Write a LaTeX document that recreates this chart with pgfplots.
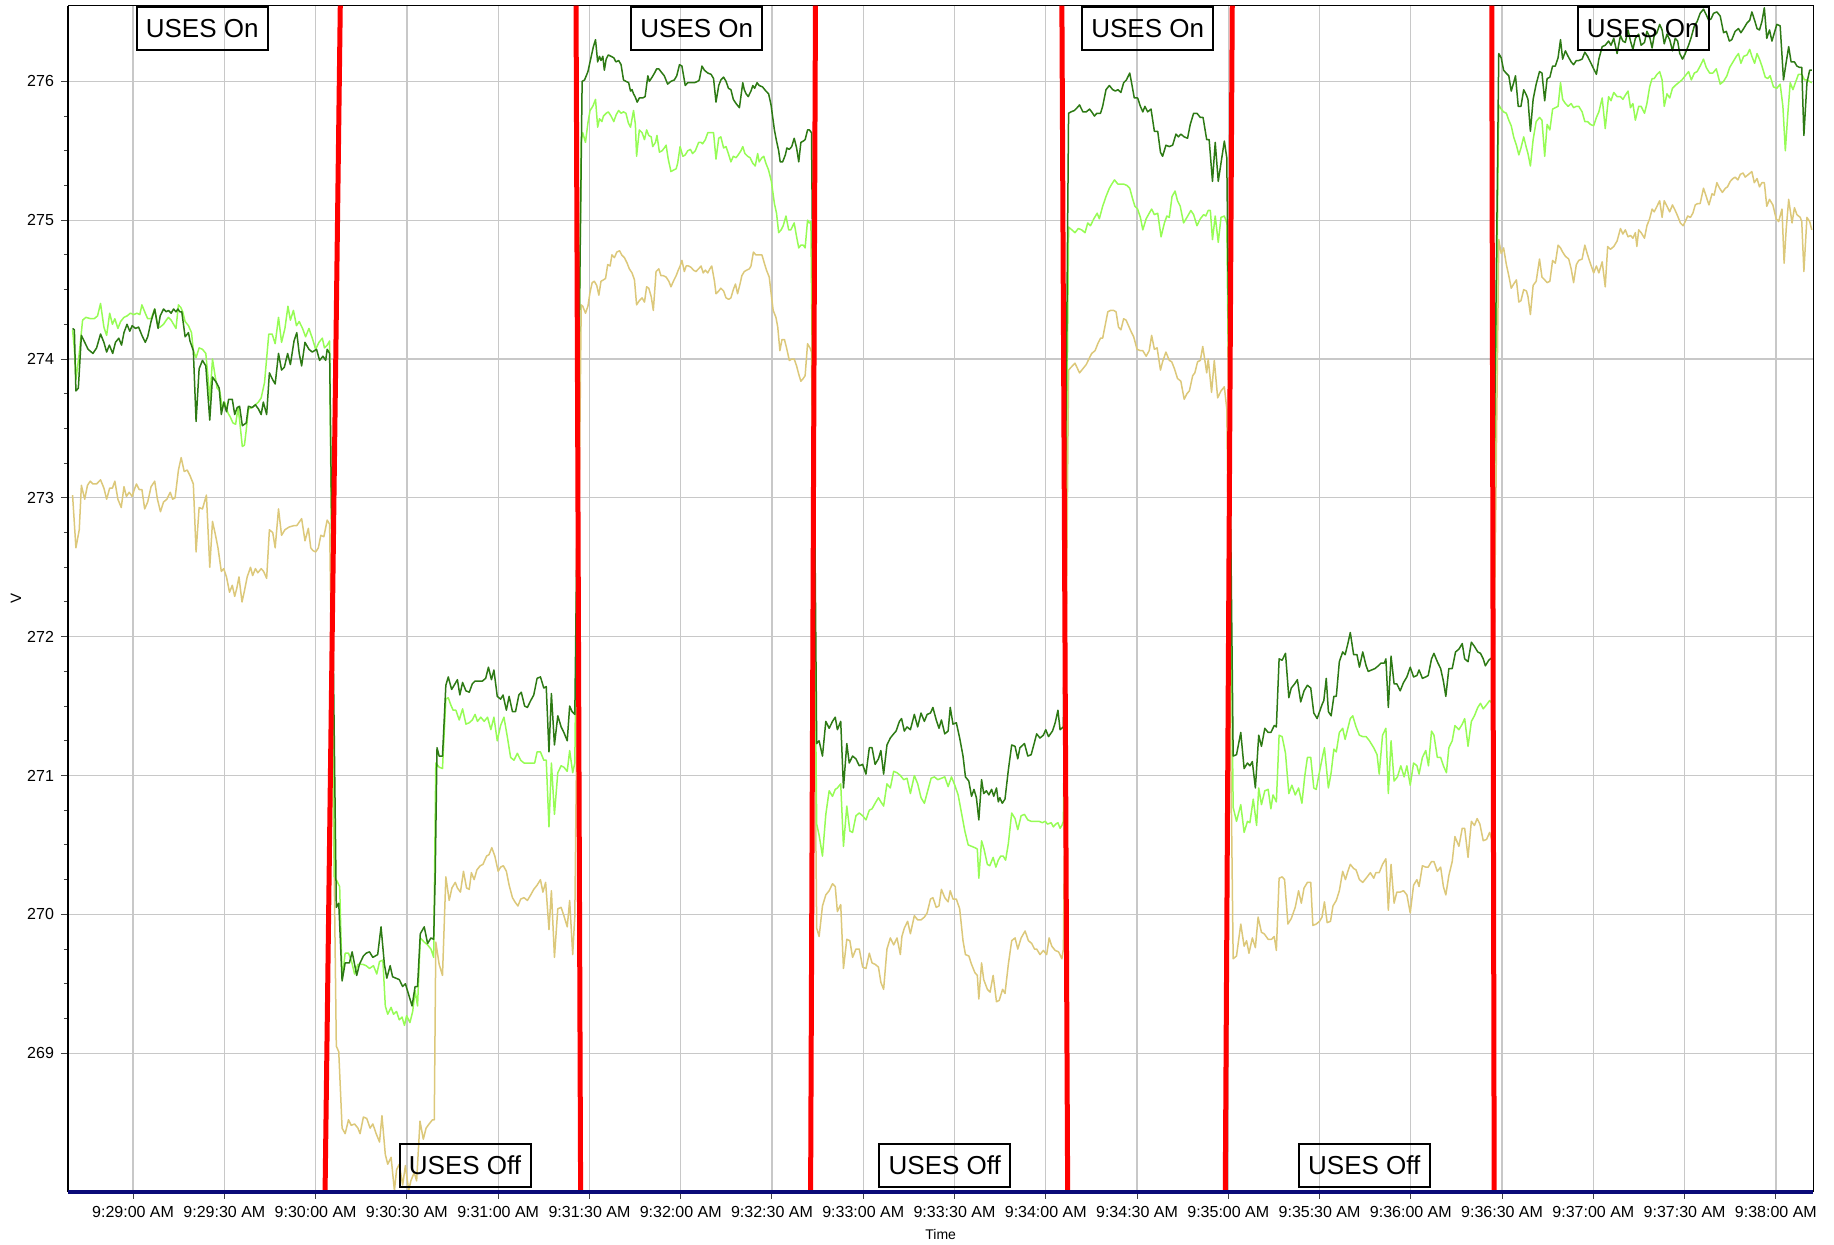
\documentclass[border=0pt]{standalone}
\usepackage{fontspec}
\setmainfont{Liberation Sans}
\usepackage{pgfplots}
\usepackage{pgfplotstable}
\pgfplotsset{compat=1.18}
\definecolor{dkgreen}{RGB}{45,122,20}
\definecolor{ltgreen}{RGB}{150,252,85}
\definecolor{tanc}{RGB}{220,200,122}
\definecolor{gridgray}{RGB}{200,200,200}
\definecolor{navyb}{RGB}{10,10,120}

\pgfplotstableread{
x y
40.1 274.22
40.7 274.21
41.2 273.77
42.0 273.79
43.0 274.17
44.1 274.12
45.2 274.07
46.8 274.04
48.0 274.08
49.3 274.18
50.4 274.12
51.3 274.05
52.2 274.10
53.3 274.04
54.2 274.12
55.3 274.15
56.2 274.10
57.0 274.19
58.0 274.25
58.9 274.20
59.7 274.24
60.8 274.22
61.8 274.23
62.9 274.17
64.0 274.12
64.8 274.16
65.9 274.27
67.1 274.36
68.2 274.22
68.9 274.31
70.0 274.36
70.9 274.34
71.6 274.35
72.5 274.33
73.3 274.36
74.1 274.34
74.7 274.36
75.4 274.34
76.0 274.34
77.1 274.16
78.2 274.19
78.7 274.13
79.8 274.06
80.7 273.55
81.7 273.93
82.8 273.99
83.9 273.95
85.2 273.56
86.1 273.87
87.4 273.83
88.3 273.79
89.0 273.60
89.8 273.69
90.7 273.62
91.4 273.71
92.6 273.71
93.4 273.60
94.2 273.65
95.0 273.66
95.9 273.52
96.6 273.53
97.2 273.54
97.9 273.66
99.1 273.65
100.2 273.67
101.2 273.64
102.1 273.60
102.8 273.69
103.9 273.60
104.8 273.90
105.9 273.85
106.7 273.82
107.8 274.04
108.8 273.92
109.7 273.94
110.8 274.04
111.7 273.96
112.9 274.13
113.8 274.19
114.6 274.04
115.4 273.95
116.5 274.12
117.8 274.07
118.9 274.05
120.3 274.07
121.3 273.99
122.4 274.02
123.3 273.99
123.8 274.07
124.6 274.04
126.8 270.05
127.6 270.08
128.7 269.52
129.7 269.65
131.1 269.65
132.0 269.73
132.8 269.64
133.5 269.56
134.4 269.64
135.7 269.70
136.6 269.72
137.7 269.73
138.8 269.69
140.4 269.71
141.5 269.91
142.6 269.64
143.4 269.54
144.5 269.63
145.3 269.55
146.4 269.54
147.5 269.53
148.6 269.48
149.5 269.50
150.6 269.42
151.7 269.34
152.7 269.48
153.5 269.48
154.4 269.86
155.7 269.91
156.8 269.79
157.9 269.83
158.8 269.82
159.3 270.27
159.9 271.20
160.6 271.14
161.7 271.14
162.8 271.65
163.6 271.71
164.7 271.62
165.8 271.66
166.6 271.69
167.4 271.58
168.3 271.67
169.4 271.61
170.5 271.60
171.5 271.66
172.4 271.68
173.4 271.68
174.8 271.68
175.9 271.70
176.8 271.78
177.8 271.69
178.6 271.76
179.7 271.57
180.8 271.55
181.6 271.58
182.7 271.47
183.6 271.57
184.7 271.46
185.7 271.46
186.8 271.58
187.6 271.60
188.7 271.50
189.6 271.49
190.7 271.54
191.7 271.58
192.8 271.70
193.9 271.71
195.0 271.63
195.8 271.64
196.7 271.17
197.5 271.59
198.5 271.22
199.6 271.43
200.7 271.35
201.6 271.31
202.7 271.25
203.5 271.50
204.3 271.46
205.2 271.44
207.6 276.00
208.4 276.01
209.5 276.07
210.5 276.17
211.3 276.25
212.0 276.30
212.7 276.14
213.3 276.18
213.8 276.15
214.4 276.18
214.9 276.08
215.5 276.16
216.2 276.19
217.1 276.18
218.0 276.17
218.7 276.14
219.6 276.15
220.4 276.12
221.2 276.01
222.0 276.00
222.9 275.99
223.5 275.93
224.0 275.94
224.5 275.91
225.0 275.89
225.7 275.85
226.4 275.88
227.5 275.88
228.3 275.89
229.2 276.04
229.7 276.00
230.6 276.03
231.4 276.06
232.1 276.09
232.8 276.09
233.5 276.07
234.6 276.04
235.7 275.98
236.8 276.00
237.9 276.01
238.7 276.04
239.6 276.12
240.4 276.11
241.5 275.97
242.3 275.99
243.4 275.99
244.5 275.99
245.6 276.00
246.1 276.01
247.0 276.11
247.8 276.08
248.9 276.06
250.0 276.05
250.8 276.02
251.6 275.85
252.5 275.97
253.2 276.01
254.1 276.03
254.9 276.00
255.7 275.95
256.5 275.94
257.3 275.87
258.2 275.84
259.3 275.81
260.4 275.99
260.9 275.94
261.5 275.91
262.2 275.89
263.1 275.93
263.7 275.97
264.3 275.95
265.1 275.99
265.8 275.97
266.9 275.96
268.0 275.93
268.9 275.91
269.7 275.83
270.8 275.65
271.5 275.57
272.2 275.50
272.7 275.42
273.5 275.42
274.4 275.47
274.9 275.52
275.7 275.51
276.5 275.53
277.3 275.59
278.1 275.52
278.8 275.42
279.5 275.56
280.3 275.57
280.9 275.58
281.7 275.65
282.3 275.65
283.0 275.63
284.7 271.23
285.5 271.25
286.6 271.14
287.7 271.39
288.8 271.34
289.9 271.39
290.8 271.42
291.5 271.33
292.6 271.39
293.5 270.91
294.6 271.23
295.4 271.09
296.5 271.14
297.6 271.12
298.7 271.07
299.8 271.08
300.9 271.01
302.0 271.20
302.9 271.20
303.9 271.08
305.0 271.12
305.8 271.18
306.7 271.01
307.8 271.22
308.9 271.27
310.0 271.30
310.8 271.32
311.9 271.39
312.6 271.41
313.5 271.32
314.4 271.35
315.5 271.33
316.8 271.44
317.9 271.35
319.0 271.45
320.1 271.39
321.0 271.44
322.1 271.45
322.9 271.49
324.0 271.40
324.9 271.34
325.7 271.40
326.8 271.30
327.9 271.32
328.6 271.49
329.5 271.37
330.6 271.38
331.7 271.27
332.8 271.14
333.6 270.99
334.7 270.96
335.6 270.85
336.4 270.90
337.2 270.84
338.0 270.68
338.9 270.97
339.6 270.87
340.5 270.89
341.3 270.86
342.2 270.90
342.9 270.85
343.8 270.91
344.4 270.81
344.9 270.84
345.7 270.80
346.6 270.83
347.7 271.04
348.8 271.22
349.9 271.21
350.8 271.12
351.5 271.20
353.0 271.23
354.1 271.14
355.2 271.15
356.3 271.24
357.0 271.30
358.1 271.27
359.2 271.29
360.0 271.33
360.9 271.28
362.2 271.32
363.1 271.38
364.0 271.47
364.7 271.33
365.8 271.35
367.5 275.77
368.3 275.78
369.4 275.79
370.3 275.81
371.1 275.83
372.2 275.78
373.3 275.78
374.4 275.80
375.1 275.78
376.0 275.75
376.8 275.77
378.0 275.77
378.7 275.82
379.8 275.94
380.9 275.97
382.0 275.94
382.9 275.93
383.7 275.94
384.7 275.92
385.6 275.99
386.5 276.01
387.6 276.06
388.2 275.99
389.1 275.88
390.2 275.88
391.1 275.82
391.9 275.78
392.6 275.82
393.5 275.78
394.6 275.80
395.7 275.64
396.8 275.64
397.7 275.49
398.4 275.46
399.5 275.54
400.6 275.53
401.7 275.54
402.8 275.62
403.6 275.60
404.4 275.62
405.5 275.60
406.6 275.59
407.5 275.69
408.6 275.77
409.7 275.77
410.8 275.74
411.7 275.74
412.9 275.58
413.7 275.58
414.8 275.28
415.7 275.56
416.7 275.28
417.8 275.44
418.7 275.57
419.5 275.45
421.6 271.14
422.7 271.15
424.1 271.31
425.2 271.05
426.3 271.09
427.1 271.07
427.9 271.10
428.9 270.91
430.0 271.29
430.9 271.21
432.0 271.34
433.1 271.31
434.0 271.31
435.1 271.36
435.8 271.35
436.7 271.84
437.7 271.83
438.8 271.88
439.9 271.56
440.7 271.63
441.8 271.66
442.7 271.69
443.8 271.53
444.9 271.61
446.0 271.65
447.1 271.63
448.1 271.45
449.2 271.41
450.0 271.46
450.8 271.51
451.4 271.54
452.2 271.70
452.9 271.46
453.8 271.43
454.7 271.57
455.5 271.57
456.5 271.82
457.6 271.89
458.4 271.87
459.3 271.95
460.1 272.03
461.2 271.87
462.3 271.87
463.1 271.78
464.2 271.89
465.3 271.79
466.0 271.75
467.1 271.76
468.2 271.77
469.3 271.79
470.2 271.81
471.3 271.81
471.8 271.84
472.6 271.49
473.5 271.86
474.5 271.66
475.4 271.66
476.5 271.61
477.6 271.67
478.7 271.71
479.8 271.78
480.9 271.71
482.0 271.72
482.7 271.76
483.8 271.70
484.9 271.71
485.7 271.72
486.8 271.84
487.6 271.88
488.7 271.82
489.8 271.77
490.7 271.68
491.5 271.57
492.5 271.77
493.6 271.77
494.7 271.89
495.8 271.91
496.9 271.95
497.7 271.84
498.8 271.82
499.9 271.96
500.9 271.93
502.0 271.89
502.9 271.88
503.8 271.84
504.5 271.79
505.6 271.83
506.7 271.85
508.9 276.20
509.7 276.17
510.5 276.08
511.3 276.06
512.2 276.04
513.0 275.93
513.8 275.99
514.4 276.04
515.3 275.82
516.2 275.82
517.1 275.94
518.0 275.90
518.5 275.87
519.3 275.64
520.2 275.87
521.2 275.98
522.3 276.07
523.1 276.06
524.0 275.86
524.8 276.02
525.7 276.03
526.6 276.11
527.5 276.11
528.4 276.17
529.2 276.30
529.9 276.16
530.8 276.22
531.7 276.18
532.7 276.14
533.5 276.12
534.4 276.15
535.2 276.15
536.3 276.16
537.2 276.21
538.1 276.18
539.0 276.14
540.1 276.09
541.0 276.05
541.8 276.16
542.9 276.25
543.9 276.26
545.0 276.29
545.8 276.26
546.7 276.31
547.8 276.20
548.9 276.33
549.7 276.29
550.5 276.28
551.4 276.37
552.2 276.29
553.0 276.23
553.8 276.31
554.9 276.34
555.7 276.26
556.8 276.28
557.6 276.36
558.5 276.32
559.3 276.24
560.0 276.33
560.9 276.35
561.8 276.41
562.6 276.37
563.3 276.27
564.2 276.34
565.1 276.30
566.0 276.22
566.9 276.31
567.7 276.29
568.4 276.20
569.3 276.16
570.2 276.20
571.3 276.26
572.2 276.32
573.2 276.40
574.1 276.43
575.1 276.49
576.2 276.52
577.1 276.48
577.9 276.44
578.7 276.45
579.5 276.49
580.6 276.50
581.7 276.47
582.8 276.35
583.7 276.36
584.7 276.29
585.5 276.30
586.6 276.36
587.7 276.38
588.5 276.35
589.4 276.38
590.5 276.42
591.4 276.44
592.1 276.50
593.0 276.44
593.8 276.38
594.6 276.37
595.4 276.43
596.2 276.53
597.0 276.31
597.9 276.37
598.7 276.29
599.5 276.35
600.3 276.41
601.4 276.40
602.5 276.01
603.4 276.14
604.2 276.25
605.0 276.14
606.1 276.14
606.9 276.11
607.8 276.10
608.5 276.10
609.2 275.61
610.2 275.99
611.1 276.08
611.8 276.08
}\dkdata

\pgfplotstableread{
x y
40.1 274.21
40.7 274.07
41.2 273.85
42.3 274.04
43.4 274.28
44.5 274.30
46.1 274.29
47.2 274.29
48.3 274.31
49.3 274.40
50.4 274.23
51.3 274.17
52.3 274.33
53.2 274.25
54.0 274.29
55.0 274.22
55.9 274.27
57.0 274.30
58.0 274.31
59.1 274.33
60.2 274.32
61.3 274.33
62.2 274.32
62.9 274.39
64.0 274.33
64.8 274.29
65.9 274.29
67.1 274.36
68.2 274.23
68.9 274.23
70.0 274.25
70.9 274.28
71.6 274.30
72.5 274.28
73.3 274.25
74.1 274.22
74.9 274.39
75.7 274.37
76.3 274.34
77.1 274.27
78.2 274.24
79.2 274.19
79.8 274.06
80.7 274.01
81.7 274.08
82.8 274.07
83.9 274.04
84.7 273.85
85.2 273.70
86.1 274.00
86.8 273.90
87.6 273.79
88.5 273.77
89.3 273.64
90.1 273.69
91.2 273.61
92.0 273.58
92.8 273.54
93.7 273.53
94.5 273.65
95.0 273.56
95.9 273.37
96.6 273.38
97.2 273.49
97.9 273.64
99.1 273.65
100.2 273.67
101.2 273.69
102.1 273.72
103.2 273.83
104.6 274.18
105.7 274.18
106.7 274.11
107.8 274.30
108.8 274.12
109.9 274.22
110.9 274.38
111.7 274.28
112.7 274.35
113.7 274.24
114.6 274.27
115.7 274.22
116.7 274.16
117.8 274.22
118.9 274.15
120.0 274.07
121.1 274.12
122.2 274.15
122.9 274.08
123.8 274.10
124.6 274.13
126.2 270.27
127.0 270.24
127.9 270.20
128.7 269.53
129.7 269.72
130.8 269.72
131.7 269.67
132.8 269.57
133.9 269.64
135.5 269.64
136.6 269.63
137.7 269.61
139.0 269.63
140.1 269.57
141.0 269.66
142.1 269.67
142.9 269.34
143.7 269.28
144.8 269.33
145.6 269.28
146.6 269.30
147.5 269.24
148.4 269.26
149.2 269.20
149.9 269.27
151.0 269.22
151.9 269.30
152.7 269.45
153.5 269.34
154.4 269.83
155.7 269.80
156.8 269.78
157.9 269.75
158.8 269.69
159.5 271.09
160.6 271.06
161.7 271.05
162.8 271.55
163.6 271.56
164.4 271.51
165.2 271.47
166.1 271.47
167.2 271.40
168.3 271.48
169.4 271.37
170.5 271.38
171.5 271.40
172.4 271.44
173.2 271.39
174.3 271.42
175.4 271.39
176.5 271.42
177.6 271.33
178.6 271.42
179.7 271.25
180.8 271.36
181.9 271.42
183.0 271.28
184.1 271.13
185.2 271.11
186.3 271.16
187.4 271.11
188.5 271.09
189.8 271.09
190.9 271.09
192.0 271.09
192.8 271.17
193.9 271.17
195.0 271.11
195.8 271.11
196.7 270.63
197.5 271.09
198.5 270.72
199.6 271.02
200.7 271.07
201.6 271.06
202.7 271.03
203.5 271.18
204.5 271.02
205.2 271.09
207.3 275.56
207.8 275.63
208.7 275.56
209.5 275.70
210.2 275.79
211.1 275.82
212.0 275.87
212.7 275.67
213.3 275.73
214.1 275.71
214.6 275.75
215.5 275.77
216.2 275.78
217.1 275.75
218.0 275.71
218.8 275.76
219.6 275.79
220.4 275.77
221.2 275.78
222.0 275.77
222.8 275.70
223.5 275.67
224.5 275.79
225.1 275.69
225.5 275.46
226.4 275.65
227.3 275.63
228.1 275.58
228.8 275.65
229.5 275.61
230.3 275.60
230.8 275.53
231.7 275.56
232.2 275.61
233.0 275.49
233.9 275.50
234.6 275.52
235.2 275.54
235.9 275.44
236.8 275.35
237.6 275.36
238.5 275.37
239.0 275.41
239.8 275.53
240.7 275.46
241.5 275.47
242.3 275.50
243.2 275.51
243.9 275.48
244.8 275.50
245.9 275.56
246.7 275.56
247.2 275.55
248.1 275.58
248.9 275.63
250.0 275.63
250.8 275.63
251.6 275.44
252.5 275.59
253.2 275.60
254.1 275.52
254.9 275.53
255.8 275.47
256.5 275.42
257.3 275.46
258.2 275.45
258.9 275.47
259.8 275.50
260.4 275.53
261.1 275.48
262.0 275.46
262.8 275.45
263.7 275.41
264.5 275.39
265.3 275.48
265.8 275.42
266.7 275.45
267.3 275.46
268.0 275.41
268.9 275.36
269.8 275.28
270.8 275.12
271.5 275.05
272.2 274.91
273.0 274.93
273.7 274.96
274.6 275.03
275.5 274.93
276.2 274.93
277.3 274.98
278.1 274.88
278.8 274.80
279.5 274.82
280.3 274.82
280.9 274.80
281.7 275.00
282.3 274.98
282.8 274.99
284.7 270.65
285.5 270.57
286.6 270.42
287.7 270.72
288.8 270.89
289.9 270.85
290.8 270.90
291.5 270.91
292.6 270.94
293.5 270.49
294.6 270.78
295.6 270.60
296.5 270.59
297.6 270.71
298.7 270.73
299.8 270.71
300.9 270.68
302.0 270.75
302.9 270.76
303.9 270.80
305.0 270.84
305.8 270.81
306.7 270.78
307.8 270.94
308.9 270.91
310.0 271.03
311.1 271.02
312.2 271.00
313.3 270.97
314.4 270.98
315.5 270.87
316.8 271.00
317.9 270.94
319.0 270.84
320.1 270.80
321.2 270.89
322.3 270.98
323.4 270.99
324.5 270.97
325.7 270.98
326.8 270.99
327.9 270.92
329.0 270.99
330.1 270.93
331.2 270.86
332.3 270.73
333.4 270.60
334.5 270.50
335.6 270.49
336.7 270.48
337.5 270.47
338.0 270.26
338.9 270.53
339.7 270.47
340.8 270.36
341.6 270.35
342.7 270.41
343.6 270.34
344.4 270.39
345.2 270.42
346.0 270.42
346.8 270.39
347.7 270.51
348.8 270.73
349.9 270.69
350.8 270.61
351.9 270.71
353.0 270.72
354.1 270.68
355.2 270.67
356.5 270.67
357.8 270.67
358.9 270.66
359.8 270.67
360.6 270.65
361.8 270.66
362.5 270.63
363.3 270.65
364.0 270.66
364.7 270.62
365.3 270.64
365.8 270.67
367.5 274.95
368.6 274.93
369.6 274.91
370.7 274.94
371.8 274.93
372.9 274.91
373.8 274.98
374.7 274.96
375.8 275.01
376.9 275.05
377.6 275.01
378.7 275.10
379.8 275.17
380.9 275.23
381.7 275.26
382.6 275.29
383.7 275.26
384.7 275.26
385.6 275.26
386.7 275.25
387.6 275.23
388.6 275.15
389.3 275.10
390.2 275.08
391.1 275.02
391.9 274.93
393.0 275.01
394.0 275.05
394.8 275.08
395.7 275.04
396.8 275.05
397.9 274.88
399.0 274.98
399.8 275.03
400.6 275.02
401.5 275.17
402.5 275.21
403.3 275.14
404.2 275.10
405.3 274.98
406.4 275.02
407.7 275.07
408.6 275.04
409.7 274.96
410.8 275.01
411.9 275.04
412.6 275.03
413.4 275.07
414.1 275.07
414.8 274.86
415.7 275.03
416.7 274.84
417.6 275.02
418.7 275.03
419.5 274.98
421.6 270.77
422.7 270.67
424.1 270.79
425.2 270.59
426.3 270.67
427.1 270.66
428.2 270.83
429.3 270.64
430.0 270.91
430.9 270.79
432.0 270.89
433.1 270.90
434.0 270.76
434.7 270.86
435.8 270.81
436.7 271.29
437.7 271.28
438.8 271.16
439.9 270.87
440.9 270.93
442.0 270.86
443.1 270.91
444.2 270.80
445.1 270.99
446.0 271.13
447.1 271.13
448.1 270.91
448.9 270.90
450.0 271.03
451.1 271.15
451.6 271.20
452.9 270.91
453.8 271.02
454.7 271.19
455.5 271.17
456.5 271.31
457.6 271.34
458.4 271.26
459.3 271.34
460.1 271.41
460.9 271.43
462.0 271.35
463.1 271.29
464.2 271.28
465.3 271.28
466.4 271.25
467.8 271.20
468.9 271.15
469.6 271.01
470.7 271.29
471.8 271.34
472.6 270.87
473.5 271.25
474.5 270.96
475.6 270.99
476.7 271.07
477.8 270.99
478.7 271.07
479.8 270.93
480.9 271.09
482.0 271.07
482.7 271.01
483.8 271.13
484.9 271.18
485.8 271.07
486.8 271.32
487.6 271.29
488.7 271.13
489.8 271.13
490.7 271.07
491.7 271.02
492.5 271.20
493.6 271.25
494.5 271.36
495.8 271.33
496.9 271.37
497.7 271.41
498.8 271.21
499.9 271.39
500.9 271.43
502.0 271.49
502.9 271.52
503.8 271.48
504.9 271.51
505.9 271.54
506.7 271.52
508.9 275.83
509.7 275.80
510.5 275.78
511.4 275.77
512.2 275.72
513.0 275.68
513.8 275.60
514.7 275.54
515.5 275.47
516.2 275.52
517.1 275.60
518.0 275.52
518.5 275.48
519.3 275.39
520.2 275.58
521.2 275.71
522.3 275.74
523.1 275.72
524.0 275.46
524.8 275.69
525.7 275.65
526.6 275.80
527.5 275.81
528.4 275.82
529.2 275.99
529.9 275.87
530.8 275.84
531.7 275.82
532.7 275.84
533.5 275.81
534.4 275.82
535.2 275.82
536.3 275.78
537.2 275.71
538.1 275.71
539.0 275.69
540.1 275.68
541.0 275.74
541.8 275.78
542.9 275.88
543.9 275.66
545.0 275.89
545.8 275.86
546.7 275.92
547.8 275.89
548.9 275.89
549.7 275.87
550.5 275.90
551.4 275.93
552.2 275.81
553.0 275.84
553.8 275.72
554.9 275.82
555.7 275.82
556.8 275.77
557.6 275.84
558.5 275.96
559.3 276.02
560.0 276.02
560.9 276.05
561.8 276.07
562.6 276.01
563.3 275.82
564.2 275.91
565.1 275.88
566.0 275.95
566.9 275.97
568.0 275.99
569.1 276.01
570.2 276.04
571.3 276.07
572.2 276.01
573.2 276.06
574.1 276.07
575.1 276.11
576.2 276.16
577.1 276.10
578.2 276.06
579.3 276.06
580.4 276.09
581.7 275.98
582.8 276.00
583.9 276.04
584.8 276.10
585.9 276.14
587.0 276.18
587.7 276.20
588.5 276.13
589.4 276.18
590.5 276.19
591.4 276.23
592.1 276.18
593.0 276.13
593.8 276.20
594.6 276.16
595.4 276.11
596.5 276.03
597.3 276.02
598.1 276.04
599.2 275.96
600.3 275.95
601.4 275.98
602.3 275.82
603.1 275.50
603.9 275.76
604.7 275.99
605.6 275.94
606.4 275.99
607.4 276.05
608.5 276.05
609.4 276.01
610.2 276.01
611.8 275.99
}\ltdata

\pgfplotstableread{
x y
40.1 273.02
41.2 272.64
42.3 272.77
43.0 273.09
44.1 272.99
45.0 273.09
45.9 273.12
46.8 273.10
48.0 273.10
49.3 273.13
50.4 273.07
51.3 272.99
52.3 273.07
53.2 273.07
54.0 273.12
55.0 272.99
56.1 272.93
57.0 273.08
57.8 273.01
58.7 273.04
59.7 273.01
60.4 273.06
61.1 273.10
62.0 273.06
62.9 273.06
63.8 272.92
64.8 272.97
65.9 273.08
67.1 273.12
68.0 272.99
69.0 272.90
70.0 272.97
71.1 272.99
72.2 273.04
73.0 272.99
73.8 273.00
74.9 273.20
75.8 273.29
76.8 273.19
77.8 273.20
78.7 273.16
79.8 273.10
80.7 272.61
81.7 272.93
82.8 272.92
84.1 273.02
85.2 272.50
86.1 272.83
87.0 272.74
87.9 272.64
89.0 272.47
89.8 272.49
90.7 272.43
91.7 272.32
92.6 272.37
93.4 272.29
94.1 272.35
94.8 272.43
95.8 272.25
96.6 272.33
97.5 272.43
98.6 272.50
99.3 272.44
100.2 272.49
101.0 272.46
102.1 272.49
102.9 272.47
103.9 272.42
104.8 272.77
105.9 272.75
106.7 272.64
107.8 272.92
108.8 272.73
109.9 272.77
111.3 272.79
112.9 272.80
113.8 272.80
115.4 272.85
116.5 272.69
117.6 272.78
118.4 272.64
119.1 272.62
120.0 272.61
120.9 272.64
121.7 272.73
122.7 272.72
123.8 272.84
124.6 272.81
126.2 270.13
126.8 269.05
127.6 269.01
128.7 268.46
129.7 268.42
130.8 268.52
131.7 268.48
132.8 268.49
133.9 268.46
134.6 268.42
135.7 268.54
136.8 268.53
137.9 268.46
138.8 268.49
139.9 268.42
141.0 268.36
141.8 268.55
142.9 268.27
143.7 268.20
144.8 268.25
145.9 268.01
146.6 268.16
147.5 268.20
148.6 268.05
149.5 268.19
150.6 268.01
151.3 268.08
152.4 268.14
153.2 268.08
154.3 268.51
155.4 268.38
156.3 268.46
157.3 268.49
158.4 268.52
159.0 268.52
159.5 269.80
160.6 269.64
161.7 269.56
162.8 270.27
163.9 270.10
164.8 270.19
165.9 270.23
166.6 270.19
167.6 270.16
168.6 270.31
169.6 270.19
170.5 270.18
171.2 270.30
172.1 270.25
173.0 270.32
174.1 270.35
175.0 270.36
176.2 270.42
177.0 270.43
177.9 270.48
178.9 270.42
180.0 270.31
180.8 270.34
181.7 270.35
182.7 270.31
183.6 270.21
184.7 270.12
185.5 270.09
186.5 270.06
187.4 270.11
188.5 270.12
189.6 270.10
190.7 270.14
191.7 270.18
192.8 270.21
193.9 270.25
194.7 270.16
195.6 270.23
196.7 269.89
197.5 270.17
198.5 269.69
199.6 270.04
200.7 270.05
201.6 269.99
202.7 269.91
203.5 270.10
204.5 269.71
205.2 269.99
207.3 274.39
207.8 274.38
208.7 274.33
209.5 274.38
210.2 274.48
210.9 274.55
211.6 274.56
212.4 274.53
213.1 274.46
213.8 274.56
214.6 274.57
215.3 274.58
216.0 274.68
216.8 274.67
217.4 274.75
218.2 274.73
219.0 274.77
219.9 274.78
220.6 274.75
221.5 274.73
222.4 274.69
223.1 274.65
224.0 274.62
224.8 274.57
225.5 274.39
226.4 274.42
227.3 274.44
228.1 274.41
228.8 274.52
229.5 274.51
230.3 274.45
231.0 274.35
231.9 274.63
232.8 274.65
233.5 274.60
234.3 274.60
235.2 274.59
236.1 274.56
236.8 274.52
237.6 274.56
238.5 274.60
239.2 274.64
239.8 274.67
240.4 274.71
241.2 274.63
241.8 274.67
242.6 274.67
243.4 274.66
244.2 274.64
245.0 274.63
245.9 274.65
246.7 274.67
247.4 274.62
248.1 274.64
248.9 274.62
249.6 274.65
250.2 274.67
251.1 274.56
251.6 274.47
252.5 274.49
253.2 274.51
254.1 274.49
254.9 274.44
255.8 274.43
256.5 274.44
257.3 274.50
258.0 274.54
258.7 274.47
259.5 274.54
260.1 274.60
260.9 274.63
261.7 274.64
262.6 274.65
263.1 274.67
263.9 274.77
264.7 274.75
265.6 274.75
266.7 274.75
267.5 274.69
268.2 274.64
269.1 274.59
269.9 274.44
270.4 274.35
271.3 274.30
271.9 274.23
272.6 274.06
273.3 274.14
274.1 274.14
274.8 274.08
275.7 273.99
276.6 274.00
277.3 274.00
278.1 273.95
278.8 273.89
279.5 273.84
280.3 273.86
280.9 273.88
281.7 274.11
282.5 274.08
283.0 274.05
284.7 269.90
285.5 269.84
286.6 270.06
287.7 270.14
288.8 270.17
289.9 270.22
290.8 270.20
291.5 270.02
292.6 270.07
293.5 269.61
294.6 269.82
295.6 269.81
296.5 269.69
297.6 269.75
298.7 269.75
299.8 269.62
300.9 269.61
302.0 269.72
302.9 269.65
303.9 269.64
305.0 269.62
305.8 269.51
306.7 269.46
307.8 269.75
308.9 269.83
310.0 269.78
311.1 269.83
312.2 269.71
312.7 269.84
313.5 269.90
314.6 269.95
315.5 269.86
316.8 269.99
317.9 269.96
319.0 269.96
320.1 269.98
321.0 270.01
322.1 270.11
322.9 270.12
324.0 270.05
324.9 270.06
325.7 270.18
326.8 270.12
327.9 270.09
328.6 270.17
329.5 270.11
330.6 270.11
331.7 270.04
332.8 269.81
333.6 269.71
334.7 269.70
335.6 269.64
336.7 269.58
337.5 269.56
338.0 269.39
338.9 269.65
339.6 269.53
340.8 269.46
341.7 269.44
342.7 269.56
343.8 269.37
344.7 269.38
345.8 269.46
346.6 269.43
347.7 269.64
348.8 269.81
349.9 269.83
350.8 269.75
351.9 269.83
353.2 269.88
354.3 269.81
355.4 269.79
356.3 269.75
357.0 269.75
358.1 269.71
359.2 269.74
360.3 269.71
361.1 269.83
362.0 269.77
363.1 269.74
364.2 269.73
365.3 269.68
365.8 269.75
367.5 273.92
368.3 273.94
369.6 273.97
371.1 273.90
372.2 273.93
373.3 273.96
374.4 274.01
375.1 274.04
376.2 274.06
377.1 274.11
378.0 274.15
378.7 274.15
379.5 274.24
380.4 274.34
381.3 274.35
382.3 274.35
383.1 274.34
383.9 274.23
384.7 274.21
385.6 274.29
386.4 274.28
387.2 274.24
388.0 274.20
388.9 274.16
390.0 274.07
391.1 274.06
391.9 274.06
393.0 274.02
394.0 274.06
394.8 274.17
395.7 274.07
396.6 274.08
397.7 273.92
398.4 273.98
399.5 274.05
400.6 273.99
401.4 273.98
402.3 273.93
403.3 273.86
404.4 273.84
405.5 273.71
406.4 273.75
407.2 273.77
408.3 273.88
409.0 273.90
409.9 273.98
410.8 273.99
411.6 274.09
412.3 273.99
412.9 273.90
413.4 274.00
414.5 273.76
415.4 273.99
416.5 273.72
417.6 273.77
418.7 273.80
419.5 273.64
421.6 269.68
422.7 269.70
424.1 269.93
425.2 269.77
426.0 269.81
426.8 269.72
427.9 269.83
428.9 269.76
429.8 269.98
430.9 269.87
431.8 269.86
433.1 269.82
434.2 269.82
435.1 269.84
435.8 269.74
436.7 270.26
437.7 270.27
438.5 270.25
439.6 269.93
440.7 269.97
442.0 270.05
443.1 270.17
444.0 270.08
444.9 270.19
446.0 270.23
447.1 270.23
447.8 269.92
448.9 269.93
450.0 269.95
450.8 269.98
451.6 270.09
452.5 269.94
453.6 269.95
454.4 270.06
455.5 270.10
456.5 270.17
457.6 270.31
458.5 270.25
459.3 270.31
460.1 270.36
461.2 270.33
462.0 270.32
463.1 270.25
464.2 270.23
465.3 270.26
466.7 270.30
467.8 270.26
468.5 270.30
469.6 270.30
470.7 270.36
471.8 270.40
472.6 270.03
473.5 270.36
474.5 270.08
475.4 270.16
476.5 270.16
477.6 270.17
478.7 270.14
479.8 270.01
480.9 270.21
482.0 270.25
482.7 270.20
483.8 270.35
484.9 270.34
485.7 270.34
486.8 270.38
487.6 270.38
488.7 270.31
489.8 270.34
490.7 270.20
491.5 270.14
492.5 270.28
493.6 270.38
494.5 270.56
495.8 270.49
496.9 270.62
497.7 270.62
498.8 270.41
499.9 270.67
500.9 270.64
501.8 270.69
502.7 270.65
503.8 270.53
504.9 270.54
505.9 270.59
506.7 270.53
508.9 274.86
509.7 274.76
510.5 274.80
511.4 274.68
512.2 274.60
513.0 274.51
513.8 274.54
514.7 274.57
515.5 274.41
516.2 274.42
517.1 274.50
518.0 274.49
518.5 274.45
519.3 274.32
520.2 274.53
521.2 274.56
522.3 274.72
523.1 274.59
524.0 274.57
524.8 274.55
525.7 274.56
526.6 274.71
527.5 274.69
528.4 274.82
529.2 274.80
529.9 274.77
530.8 274.74
531.9 274.72
532.7 274.65
533.5 274.55
534.4 274.68
535.2 274.71
536.3 274.72
537.2 274.82
538.1 274.75
539.0 274.69
540.1 274.62
541.0 274.67
541.8 274.62
542.9 274.70
543.9 274.52
544.7 274.81
545.6 274.79
546.7 274.81
547.8 274.85
548.9 274.94
549.7 274.90
550.5 274.93
551.4 274.88
552.2 274.89
553.0 274.87
553.8 274.91
554.3 274.81
554.9 274.93
555.7 274.91
556.8 274.87
557.6 274.96
558.5 275.01
559.3 275.08
560.0 275.06
560.9 275.10
561.8 275.14
562.6 275.02
563.3 275.14
564.2 275.10
565.1 275.06
566.0 275.11
566.9 275.07
567.7 275.03
568.6 274.98
569.5 274.96
570.2 274.99
571.0 275.03
571.9 275.02
572.7 275.05
573.5 275.11
574.3 275.12
575.1 275.12
576.2 275.23
577.1 275.17
578.0 275.11
579.0 275.19
579.7 275.18
580.6 275.27
581.5 275.23
582.4 275.20
583.4 275.23
584.1 275.24
585.0 275.28
585.9 275.30
586.6 275.31
587.5 275.29
588.3 275.33
589.2 275.34
589.9 275.31
591.0 275.33
592.1 275.35
592.9 275.27
593.8 275.30
594.6 275.24
595.4 275.27
596.2 275.27
597.0 275.10
597.9 275.15
599.0 275.11
600.1 275.01
600.9 274.99
602.0 275.08
602.7 274.69
603.4 274.94
604.2 275.15
605.3 274.98
606.1 275.09
606.9 275.04
608.0 275.02
608.5 274.99
609.2 274.63
610.2 275.02
611.1 274.99
611.8 274.93
}\tandata

\begin{document}
\begin{tikzpicture}
\useasboundingbox (0,0) rectangle (917pt,622.5pt);
\begin{axis}[
  at={(34pt,26.5pt)}, anchor=south west,
  scale only axis, width=872.65pt, height=593.15pt,
  xmin=38.6, xmax=612.3, ymin=268, ymax=276.545,
  clip=false,
  xtick={60,90,120,150,180,210,240,270,300,330,360,390,420,450,480,510,540,570,600},
  xticklabels={9:29:00 AM,9:29:30 AM,9:30:00 AM,9:30:30 AM,9:31:00 AM,9:31:30 AM,9:32:00 AM,9:32:30 AM,9:33:00 AM,9:33:30 AM,9:34:00 AM,9:34:30 AM,9:35:00 AM,9:35:30 AM,9:36:00 AM,9:36:30 AM,9:37:00 AM,9:37:30 AM,9:38:00 AM},
  ytick={269,270,271,272,273,274,275,276},
  minor y tick num=3,
  tick pos=left,
  tick align=outside,
  major tick length=3.5pt, minor tick length=2pt,
  grid=major,
  major grid style={gridgray, line width=0.65pt},
  tick style={black!75, line width=0.5pt},
  ticklabel style={font=\fontsize{8}{9}\selectfont},
  /pgf/number format/assume math mode=true,
  xlabel={Time}, ylabel={V},
  xlabel style={font=\fontsize{7}{8}\selectfont, at={(axis description cs:0.5,-0.0362)}, anchor=center},
  ylabel style={font=\fontsize{7.5}{8}\selectfont, at={(axis description cs:-0.0298,0.5)}, anchor=center},
  axis line style={black, line width=0.5pt},
  every axis plot/.append style={no markers, line join=round},
]
\addplot[tanc, line width=0.75pt] table {\tandata};
\addplot[ltgreen, line width=0.75pt] table {\ltdata};
\addplot[dkgreen, line width=0.75pt] table {\dkdata};

\addplot[red, line width=2.5pt] coordinates {(128.1,276.545) (123.1,268)};
\addplot[red, line width=2.5pt] coordinates {(205.6,276.545) (207.1,268)};
\addplot[red, line width=2.5pt] coordinates {(284.3,276.545) (282.7,268)};
\addplot[red, line width=2.5pt] coordinates {(365.3,276.545) (367.2,268)};
\addplot[red, line width=2.5pt] coordinates {(421.3,276.545) (419.0,268)};
\addplot[red, line width=2.5pt] coordinates {(506.6,276.545) (507.4,268)};

\tikzset{usesbox/.style={draw=black, line width=1pt, minimum width=65.5pt, minimum height=21.5pt, inner sep=0pt, font=\fontsize{13}{13}\selectfont}}
\node[usesbox] at (axis cs:82.7,276.38) {USES On};
\node[usesbox] at (axis cs:245.3,276.38) {USES On};
\node[usesbox] at (axis cs:393.5,276.38) {USES On};
\node[usesbox] at (axis cs:556.4,276.38) {USES On};
\node[usesbox] at (axis cs:169.1,268.19) {USES Off};
\node[usesbox] at (axis cs:326.8,268.19) {USES Off};
\node[usesbox] at (axis cs:464.7,268.19) {USES Off};

\draw[black, line width=1.25pt] (rel axis cs:0,0) -- (rel axis cs:0,1);
\draw[navyb, line width=1.6pt] (rel axis cs:0,0) -- (rel axis cs:1,0);
\end{axis}
\end{tikzpicture}
\end{document}
